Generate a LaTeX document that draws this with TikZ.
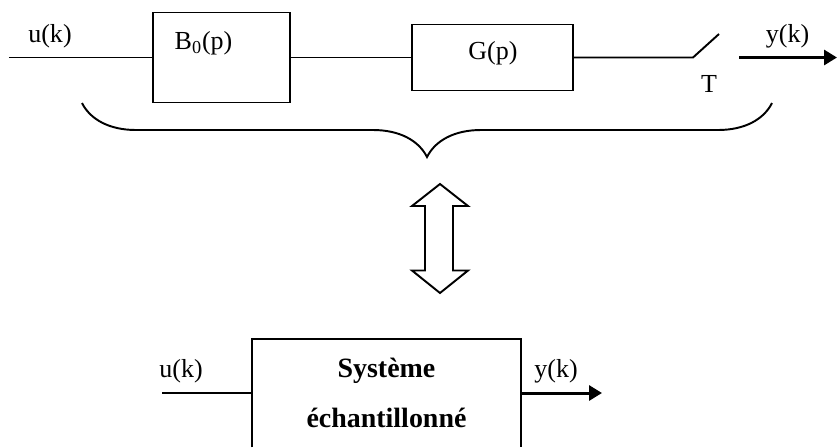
\documentclass[tikz,border=0pt]{standalone}
\usepackage{fontspec}
\setmainfont{Liberation Serif}
\usetikzlibrary{arrows.meta,decorations.pathreplacing}
\tikzset{
  block/.style={draw,rectangle,line width=1.1pt,inner sep=0pt},
  txt/.style={inner sep=0pt,font=\fontsize{14.8}{17}\selectfont},
  wire/.style={line width=1.1pt},
  outwire/.style={line width=1.7pt,-{Triangle[length=0.26cm,width=0.3cm]}}
}

\begin{document}
\begin{tikzpicture}
  \useasboundingbox (0,0) rectangle (16.74,-8.94);
  % sampled chain
  \coordinate (uin) at (0.18,-1.15);
  \node[block,minimum width=2.74cm,minimum height=1.8cm] (b0) at (4.43,-1.15) {};
  \node[block,minimum width=3.22cm,minimum height=1.32cm] (g) at (9.85,-1.15) {};
  \node[txt] (b0txt) at (4.07,-0.86) {B\textsubscript{0}(p)};
  \node[txt] (gtxt) at (9.86,-1.06) {G(p)};
  \coordinate (swa) at (13.86,-1.15);
  \coordinate (swb) at (14.38,-0.68);
  \coordinate (swc) at (14.78,-1.15);
  \coordinate (yout) at (16.74,-1.15);
  \draw[wire] (uin) -- (b0.west);
  \draw[wire] (b0.east) -- (g.west);
  \draw[wire] (g.east) -- (swa) -- (swb);
  \draw[outwire] (swc) -- (yout);
  \node[txt] (uk) at (1.0,-0.72) {u(k)};
  \node[txt] (T) at (14.18,-1.68) {T};
  \node[txt] (yk) at (15.75,-0.72) {y(k)};
  % brace
  \coordinate (bl) at (1.64,-2.06);
  \coordinate (br) at (15.44,-2.06);
  \draw[wire,decorate,decoration={brace,mirror,amplitude=1.08cm}] (bl) -- (br);
  % equivalence arrow
  \draw[wire] (8.8,-3.68) -- (9.36,-4.12) -- (9.06,-4.12) -- (9.06,-5.41)
    -- (9.36,-5.41) -- (8.8,-5.86) -- (8.24,-5.41) -- (8.5,-5.41)
    -- (8.5,-4.12) -- (8.24,-4.12) -- cycle;
  % equivalent system
  \node[minimum width=5.38cm,minimum height=2.16cm,align=center,
    font=\bfseries\fontsize{15.9}{28.5}\selectfont] (sys) at (7.73,-7.86)
    {Système\\échantillonné};
  \draw[line width=1.1pt] (sys.south west) |- (sys.north east) -- (sys.south east);
  \coordinate (uin2) at (3.24,-7.86);
  \coordinate (yout2) at (12.04,-7.86);
  \draw[wire] (uin2) -- (sys.west);
  \draw[outwire] (sys.east) -- (yout2);
  \node[txt] (uk2) at (3.62,-7.42) {u(k)};
  \node[txt] (yk2) at (11.12,-7.42) {y(k)};
\end{tikzpicture}
\end{document}
